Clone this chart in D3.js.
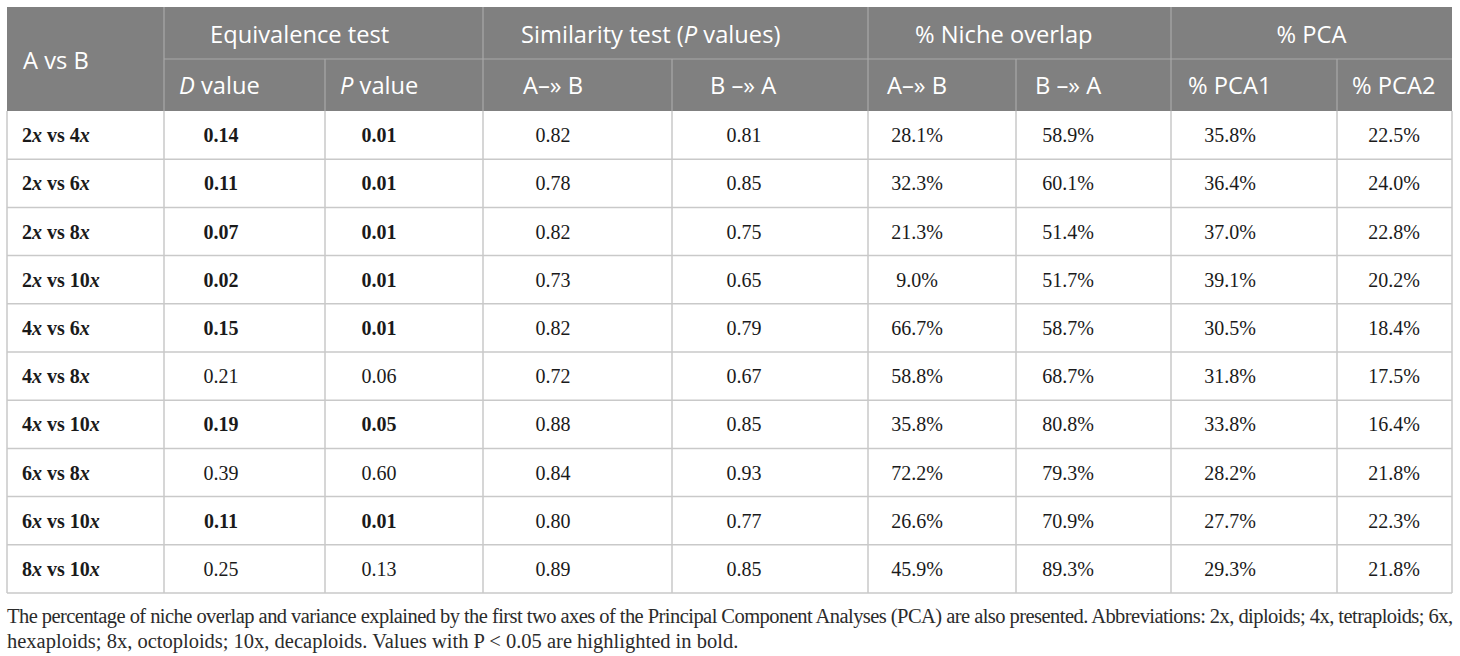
<!DOCTYPE html>
<html>
<head>
<meta charset="utf-8">
<script src="https://cdn.jsdelivr.net/npm/d3@7/dist/d3.min.js"></script>
<style>
  html, body { margin: 0; padding: 0; background: #fff; }
  svg { display: block; }
</style>
</head>
<body>
<svg id="chart" width="1460" height="656"></svg>
<script>
// ---------------- DATA ----------------
const pairs = ["2x vs 4x","2x vs 6x","2x vs 8x","2x vs 10x","4x vs 6x","4x vs 8x","4x vs 10x","6x vs 8x","6x vs 10x","8x vs 10x"];
const dValue   = ["0.14","0.11","0.07","0.02","0.15","0.21","0.19","0.39","0.11","0.25"];
const pValue   = ["0.01","0.01","0.01","0.01","0.01","0.06","0.05","0.60","0.01","0.13"];
const simAB    = ["0.82","0.78","0.82","0.73","0.82","0.72","0.88","0.84","0.80","0.89"];
const simBA    = ["0.81","0.85","0.75","0.65","0.79","0.67","0.85","0.93","0.77","0.85"];
const nicheAB  = ["28.1%","32.3%","21.3%","9.0%","66.7%","58.8%","35.8%","72.2%","26.6%","45.9%"];
const nicheBA  = ["58.9%","60.1%","51.4%","51.7%","58.7%","68.7%","80.8%","79.3%","70.9%","89.3%"];
const pca1     = ["35.8%","36.4%","37.0%","39.1%","30.5%","31.8%","33.8%","28.2%","27.7%","29.3%"];
const pca2     = ["22.5%","24.0%","22.8%","20.2%","18.4%","17.5%","16.4%","21.8%","22.3%","21.8%"];
const significant = [true,true,true,true,true,false,true,false,true,false];

const groupHeaders = ["A vs B","Equivalence test","Similarity test (*P* values)","% Niche overlap","% PCA"];
const subHeaders = ["*D* value","*P* value","A–» B","B –» A","A–» B","B –» A","% PCA1","% PCA2"];
const footnote = [
  "The percentage of niche overlap and variance explained by the first two axes of the Principal Component Analyses (PCA) are also presented. Abbreviations: 2x, diploids; 4x, tetraploids; 6x,",
  "hexaploids; 8x, octoploids; 10x, decaploids. Values with P < 0.05 are highlighted in bold."
];

// ---------------- LAYOUT ----------------
const svg = d3.select("#chart");
const colEdges = [7, 164, 325, 483, 672, 868, 1016, 1171, 1337, 1452];
const groupSpans = [[0,1],[1,3],[3,5],[5,7],[7,9]];   // column index spans
const groupTextX = [23, 210, 521, 915, null];          // null => centered
const subTextX = [179, 340, 523, 710, 887, 1035, 1188, 1352];
const dataCenterX = [221, 379, 553, 744, 917, 1068, 1230, 1394];

const tableTop = 7, headMid = 59, headBottom = 111, tableBottom = 593;
const headFill = "#808080", headLine = "#a8a8a8", gridLine = "#c9c9c9";
const sansFont = "'Open Sans', 'Noto Sans', sans-serif";
const serifFont = "'Liberation Serif', 'DejaVu Serif', serif";
const headSize = 23.7, bodySize = 20, noteSize = 20.5;

const y = d3.scaleBand().domain(pairs).range([headBottom, tableBottom]);

// rich text helper: *...* -> italic
function rich(sel, str) {
  str.split(/(\*[^*]+\*)/).filter(s => s.length).forEach(part => {
    const it = part.startsWith("*");
    sel.append("tspan").attr("font-style", it ? "italic" : null).text(it ? part.slice(1, -1) : part);
  });
}
function pairLabel(sel, str) {
  str.split(/(x)/).filter(s => s.length).forEach(part => {
    sel.append("tspan").attr("font-style", part === "x" ? "italic" : null).text(part);
  });
}

// header background
svg.append("rect").attr("x", colEdges[0]).attr("y", tableTop)
  .attr("width", colEdges[9] - colEdges[0]).attr("height", headBottom - tableTop)
  .attr("fill", headFill);

// header lines
const hg = svg.append("g").attr("stroke", headLine).attr("stroke-width", 1.2);
hg.append("line").attr("x1", colEdges[1]).attr("x2", colEdges[9]).attr("y1", headMid).attr("y2", headMid);
groupSpans.slice(1).forEach(s => {
  hg.append("line").attr("x1", colEdges[s[0]]).attr("x2", colEdges[s[0]]).attr("y1", tableTop).attr("y2", headBottom);
});
[2,4,6,8].forEach(i => {
  hg.append("line").attr("x1", colEdges[i]).attr("x2", colEdges[i]).attr("y1", headMid).attr("y2", headBottom);
});

// group header texts
groupHeaders.forEach((h, i) => {
  const span = groupSpans[i];
  const isFirst = i === 0;
  const t = svg.append("text")
    .attr("font-family", sansFont).attr("font-size", headSize).attr("fill", "#fff")
    .attr("y", isFirst ? 69 : 43);
  if (groupTextX[i] === null) {
    t.attr("x", (colEdges[span[0]] + colEdges[span[1]]) / 2).attr("text-anchor", "middle");
  } else {
    t.attr("x", groupTextX[i]);
  }
  rich(t, h);
});

// sub header texts
subHeaders.forEach((h, i) => {
  const t = svg.append("text")
    .attr("font-family", sansFont).attr("font-size", headSize).attr("fill", "#fff")
    .attr("x", subTextX[i]).attr("y", 94);
  rich(t, h);
});

// body grid
const bg = svg.append("g").attr("stroke", gridLine).attr("stroke-width", 1.5).attr("fill", "none");
pairs.forEach(p => {
  bg.append("line").attr("x1", colEdges[0]).attr("x2", colEdges[9])
    .attr("y1", y(p) + y.bandwidth()).attr("y2", y(p) + y.bandwidth());
});
colEdges.forEach(x => {
  bg.append("line").attr("x1", x).attr("x2", x).attr("y1", headBottom).attr("y2", tableBottom);
});

// body cells
const columns = [dValue, pValue, simAB, simBA, nicheAB, nicheBA, pca1, pca2];
const rows = svg.append("g").selectAll("g").data(pairs).join("g")
  .attr("transform", p => `translate(0,${y(p) + y.bandwidth() / 2 + 7})`);

rows.append("text")
  .attr("x", 22).attr("font-family", serifFont).attr("font-size", bodySize)
  .attr("font-weight", "bold").attr("fill", "#1a1a1a")
  .each(function(p) { pairLabel(d3.select(this), p); });

columns.forEach((col, ci) => {
  rows.append("text")
    .attr("x", dataCenterX[ci]).attr("text-anchor", "middle")
    .attr("font-family", serifFont).attr("font-size", bodySize).attr("fill", "#1a1a1a")
    .attr("font-weight", (p, ri) => (ci < 2 && significant[ri]) ? "bold" : null)
    .text((p, ri) => col[ri]);
});

// footnote
footnote.forEach((line, i) => {
  const t = svg.append("text")
    .attr("x", 7).attr("y", 623 + i * 25)
    .attr("font-family", serifFont).attr("font-size", noteSize).attr("fill", "#2b2b2b")
    .text(line);
  if (i === 0) t.attr("textLength", 1446).attr("lengthAdjust", "spacing");
});
</script>
</body>
</html>
